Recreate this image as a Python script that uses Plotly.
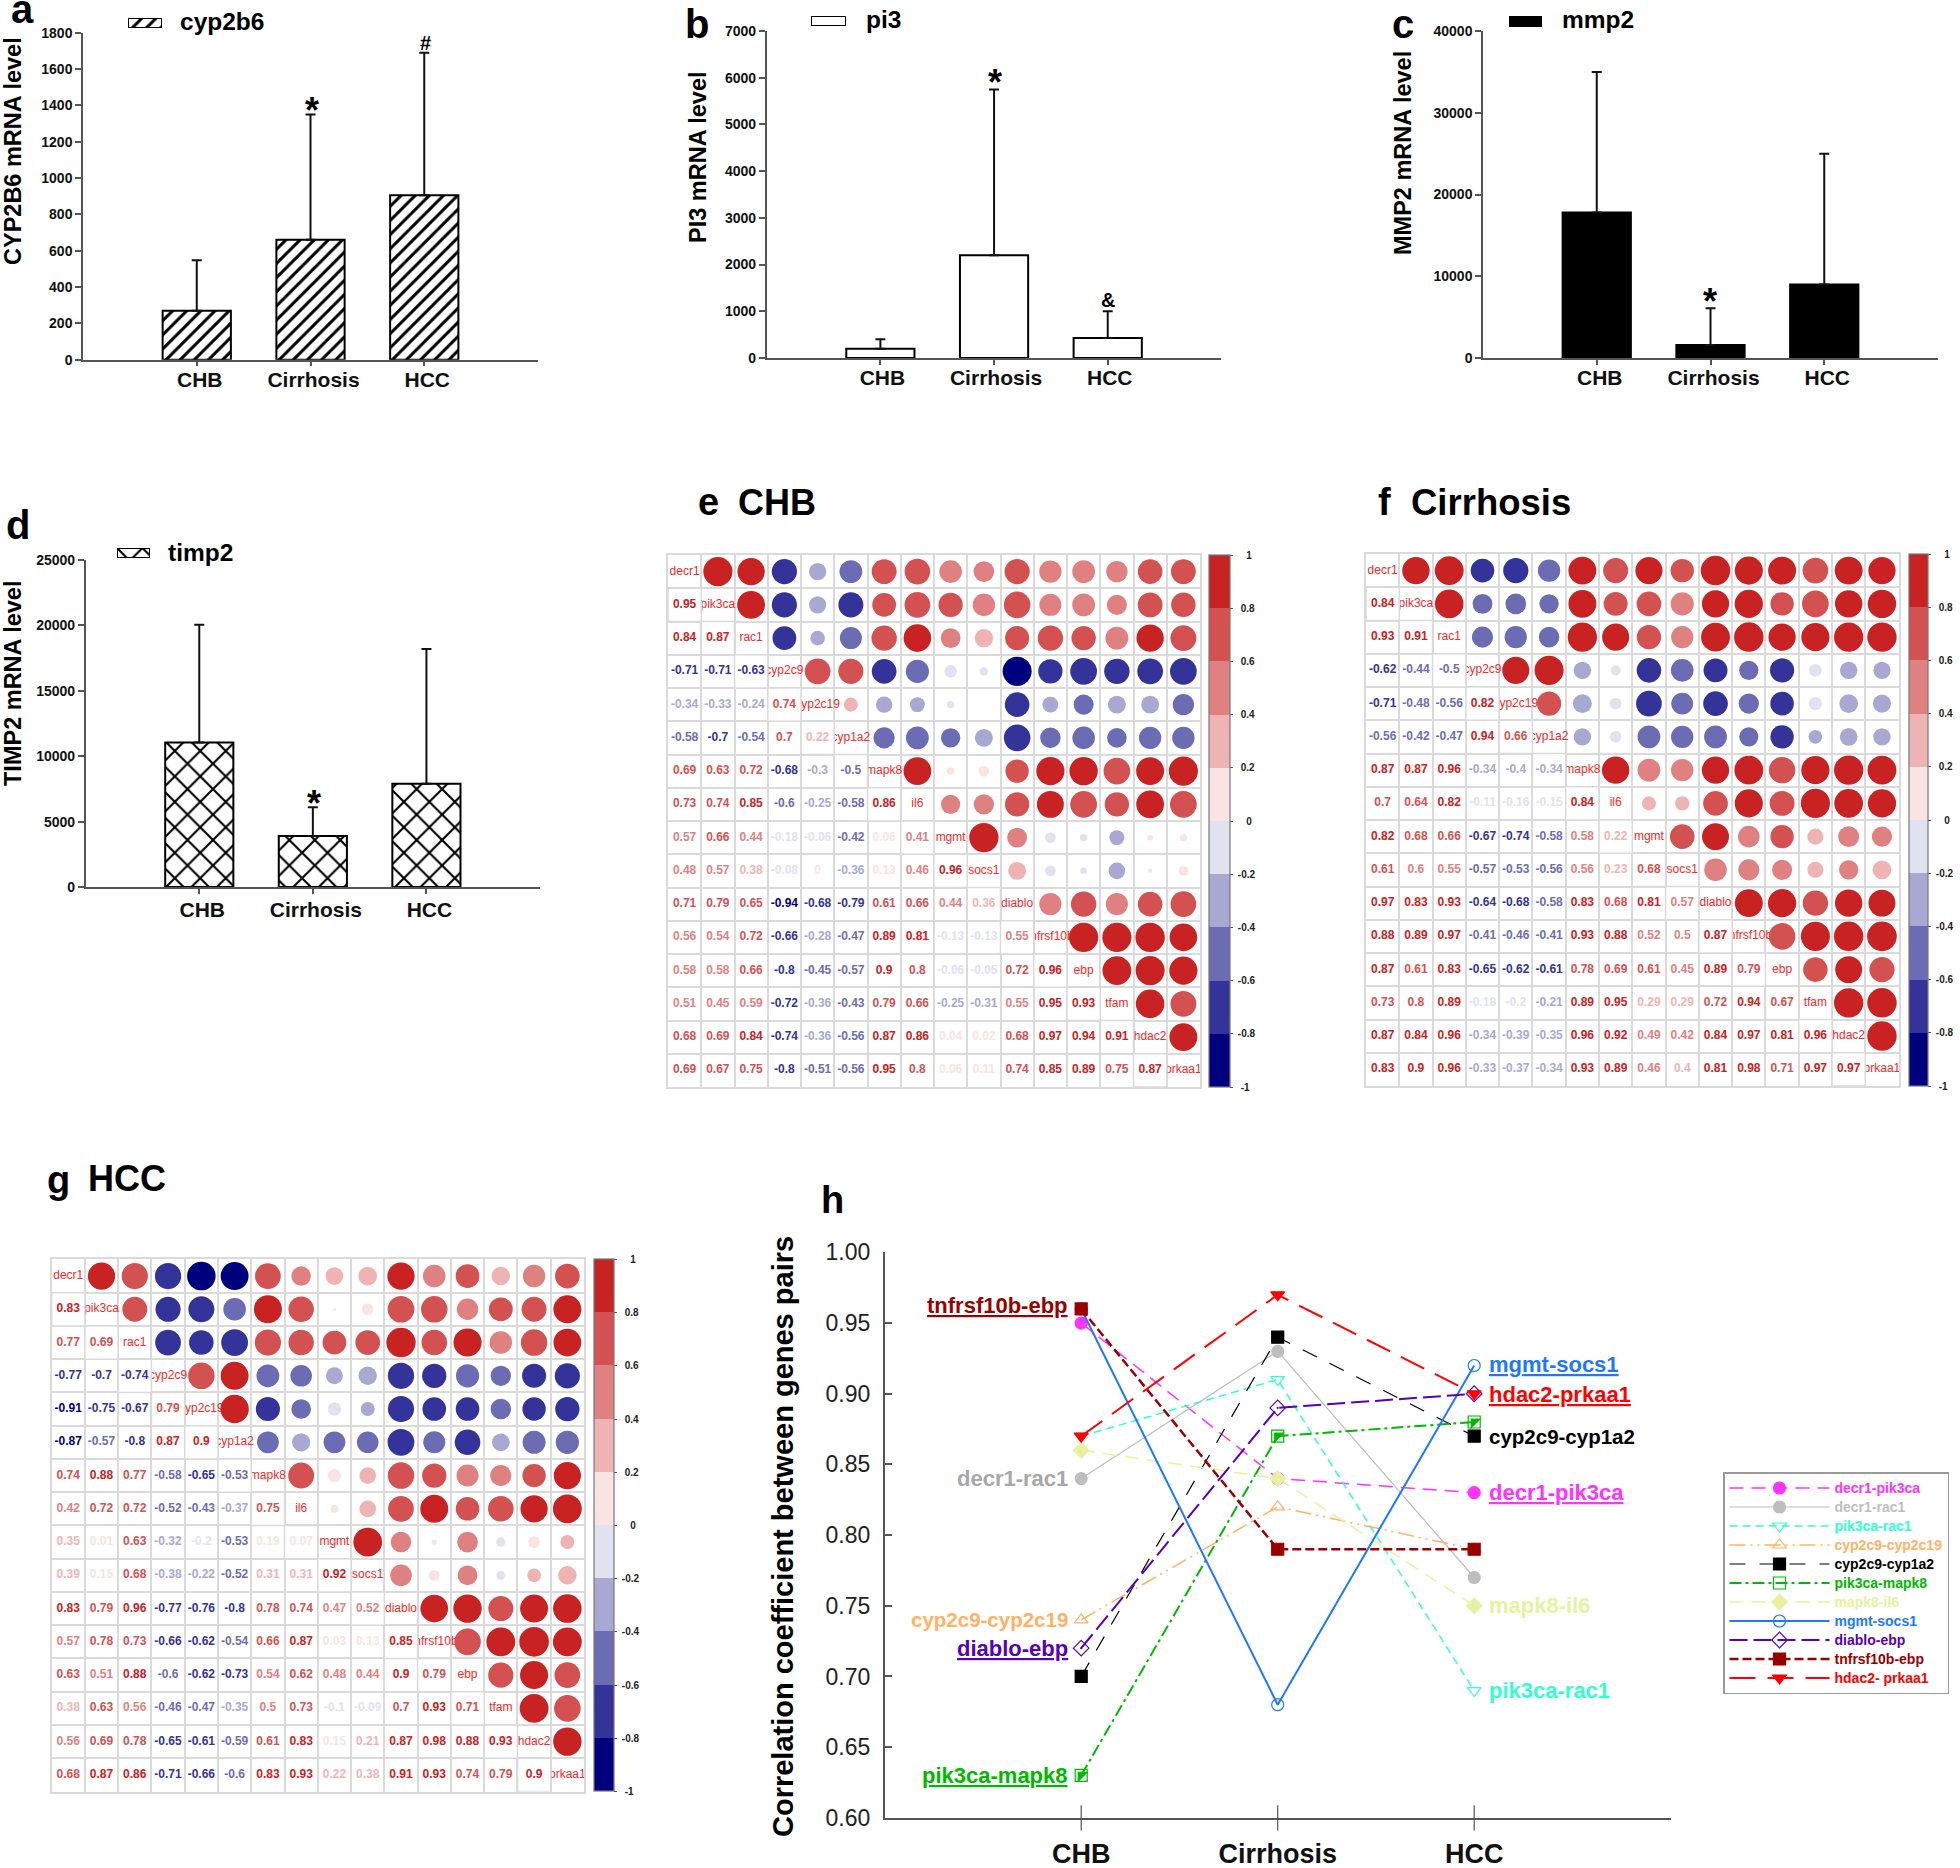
import math
import plotly.graph_objects as go

W, H = 1960, 1868
FONT = "Liberation Sans"

groups = ["CHB", "Cirrhosis", "HCC"]

# Panels a-d: bar means and top of the error bars
cyp2b6_mean = [270, 660, 905]
cyp2b6_top = [548, 1350, 1690]
pi3_mean = [200, 2200, 430]
pi3_top = [400, 5750, 1000]
mmp2_mean = [17800, 1600, 9000]
mmp2_top = [35000, 6100, 25000]
timp2_mean = [11050, 3900, 7900]
timp2_top = [20050, 6100, 18200]

genes = ["decr1", "pik3ca", "rac1", "cyp2c9", "cyp2c19", "cyp1a2", "mapk8", "il6",
         "mgmt", "socs1", "diablo", "tnfrsf10b", "ebp", "tfam", "hdac2", "prkaa1"]

chb_corr = [
    [.95],
    [.84, .87],
    [-.71, -.71, -.63],
    [-.34, -.33, -.24, .74],
    [-.58, -.7, -.54, .7, .22],
    [.69, .63, .72, -.68, -.3, -.5],
    [.73, .74, .85, -.6, -.25, -.58, .86],
    [.57, .66, .44, -.18, -.06, -.42, .06, .41],
    [.48, .57, .38, -.08, 0, -.36, .13, .46, .96],
    [.71, .79, .65, -.94, -.68, -.79, .61, .66, .44, .36],
    [.56, .54, .72, -.66, -.28, -.47, .89, .81, -.13, -.13, .55],
    [.58, .58, .66, -.8, -.45, -.57, .9, .8, -.06, -.05, .72, .96],
    [.51, .45, .59, -.72, -.36, -.43, .79, .66, -.25, -.31, .55, .95, .93],
    [.68, .69, .84, -.74, -.36, -.56, .87, .86, .04, .02, .68, .97, .94, .91],
    [.69, .67, .75, -.8, -.51, -.56, .95, .8, .06, .11, .74, .85, .89, .75, .87],
]
cirrhosis_corr = [
    [.84],
    [.93, .91],
    [-.62, -.44, -.5],
    [-.71, -.48, -.56, .82],
    [-.56, -.42, -.47, .94, .66],
    [.87, .87, .96, -.34, -.4, -.34],
    [.7, .64, .82, -.11, -.16, -.15, .84],
    [.82, .68, .66, -.67, -.74, -.58, .58, .22],
    [.61, .6, .55, -.57, -.53, -.56, .56, .23, .68],
    [.97, .83, .93, -.64, -.68, -.58, .83, .68, .81, .57],
    [.88, .89, .97, -.41, -.46, -.41, .93, .88, .52, .5, .87],
    [.87, .61, .83, -.65, -.62, -.61, .78, .69, .61, .45, .89, .79],
    [.73, .8, .89, -.18, -.2, -.21, .89, .95, .29, .29, .72, .94, .67],
    [.87, .84, .96, -.34, -.39, -.35, .96, .92, .49, .42, .84, .97, .81, .96],
    [.83, .9, .96, -.33, -.37, -.34, .93, .89, .46, .4, .81, .98, .71, .97, .97],
]
hcc_corr = [
    [.83],
    [.77, .69],
    [-.77, -.7, -.74],
    [-.91, -.75, -.67, .79],
    [-.87, -.57, -.8, .87, .9],
    [.74, .88, .77, -.58, -.65, -.53],
    [.42, .72, .72, -.52, -.43, -.37, .75],
    [.35, .01, .63, -.32, -.2, -.53, .19, .07],
    [.39, .15, .68, -.38, -.22, -.52, .31, .31, .92],
    [.83, .79, .96, -.77, -.76, -.8, .78, .74, .47, .52],
    [.57, .78, .73, -.66, -.62, -.54, .66, .87, .03, .13, .85],
    [.63, .51, .88, -.6, -.62, -.73, .54, .62, .48, .44, .9, .79],
    [.38, .63, .56, -.46, -.47, -.35, .5, .73, -.1, -.09, .7, .93, .71],
    [.56, .69, .78, -.65, -.61, -.59, .61, .83, .15, .21, .87, .98, .88, .93],
    [.68, .87, .86, -.71, -.66, -.6, .83, .93, .22, .38, .91, .93, .74, .79, .9],
]
bin_colors = ["#00007F", "#33339A", "#6C6CB5", "#A8A8D3", "#E1E1F0",
              "#F9E3E3", "#EEB4B4", "#E08181", "#D35151", "#C82222"]
cbar_ticks = [-1, -0.8, -0.6, -0.4, -0.2, 0, 0.2, 0.4, 0.6, 0.8, 1]

# Panel h
pair_names = ["decr1-pik3ca", "decr1-rac1", "pik3ca-rac1", "cyp2c9-cyp2c19", "cyp2c9-cyp1a2",
              "pik3ca-mapk8", "mapk8-il6", "mgmt-socs1", "diablo-ebp", "tnfrsf10b-ebp", "hdac2- prkaa1"]
pair_values = [[.95, .84, .83], [.84, .93, .77], [.87, .91, .69], [.74, .82, .79], [.70, .94, .87],
               [.63, .87, .88], [.86, .84, .75], [.96, .68, .92], [.72, .89, .90], [.96, .79, .79], [.87, .97, .90]]
pair_colors = ["#FF33FF", "#BEBEBE", "#33FFCC", "#FFB266", "#000000", "#00B800", "#E6F2A0",
               "#1E78FF", "#5500BB", "#990000", "#FF0000"]
pair_symbols = ["circle", "circle", "triangle-down-open", "triangle-up-open", "square", "square-open",
                "diamond", "circle-open", "diamond-open-dot", "square", "triangle-down"]
pair_dashes = ["14px,8px", "solid", "8px,5px", "16px,5px,2px,5px,2px,5px", "16px,14px", "12px,4px,3px,4px",
               "14px,8px", "solid", "18px,6px", "9px,4px", "26px,12px"]
pair_widths = [1.5, 1.2, 1.5, 1.5, 1.2, 2, 1.5, 2, 2, 2.5, 2]


def fx(x):
    return x / W


def fy(y):
    return 1 - y / H


fig = go.Figure()
layout = {}
annotations = []
axis_n = [0]


def new_axes(left, right, top, bottom, xcfg, ycfg):
    axis_n[0] += 1
    n = axis_n[0]
    sx = "" if n == 1 else str(n)
    xcfg = dict(xcfg, domain=[fx(left), fx(right)], anchor="y" + sx, automargin=False)
    ycfg = dict(ycfg, domain=[fy(bottom), fy(top)], anchor="x" + sx, automargin=False)
    layout["xaxis" + sx] = xcfg
    layout["yaxis" + sx] = ycfg
    return "x" + sx, "y" + sx


def note(x, y, text, size, color="#000000", bold=True, angle=0, anchor="center"):
    annotations.append(dict(
        x=fx(x), y=fy(y), xref="paper", yref="paper", text=text, showarrow=False,
        xanchor=anchor, yanchor="middle", textangle=angle,
        font=dict(family=FONT, size=size, color=color, weight=700 if bold else 400),
    ))


AX = "#555555"


def bar_panel(mean, top, ymax, dtick, box, marker_extra, swatch, legend_text, ytitle, shift, standoff):
    left, right, t, b = box
    xa, ya = new_axes(
        left, right, t, b,
        dict(type="category", categoryorder="array", categoryarray=groups, range=[-1, 3], showgrid=False,
             zeroline=False, showline=True,
             linecolor=AX, linewidth=1.5, ticks="outside", ticklen=5, tickcolor=AX, tickwidth=1.5,
             ticklabelshift=shift, ticklabelstandoff=standoff,
             tickfont=dict(family=FONT, size=21, color="#111", weight=700)),
        dict(range=[0, ymax], dtick=dtick, showgrid=False, zeroline=False, showline=True, linecolor=AX, linewidth=1.5,
             ticks="outside", ticklen=6, tickcolor=AX, tickwidth=1.5, tickformat="d",
             tickfont=dict(family=FONT, size=14, color="#111", weight=700)),
    )
    fig.add_trace(go.Bar(
        x=groups, y=mean, width=0.6, xaxis=xa, yaxis=ya, showlegend=False, name=legend_text,
        marker=dict(line=dict(color="#000", width=2), **marker_extra),
        error_y=dict(type="data", symmetric=False, array=[a - c for a, c in zip(top, mean)],
                     arrayminus=[0, 0, 0], color="#111", thickness=2, width=5),
    ))
    # legend swatch
    sl, sr, st, sb = swatch
    xs, ys = new_axes(sl, sr, st, sb,
                      dict(range=[-0.5, 0.5], visible=False),
                      dict(range=[0, 1], visible=False))
    fig.add_trace(go.Bar(x=[0], y=[1], width=1, xaxis=xs, yaxis=ys, showlegend=False, name=legend_text,
                         marker=dict(line=dict(color="#000", width=2), **marker_extra)))
    note(ytitle[0], ytitle[1], ytitle[2], 23.5, angle=-90)


bar_panel(cyp2b6_mean, cyp2b6_top, 1800, 200, (83, 538, 32.7, 359.7),
          dict(color="#fff", pattern=dict(shape="/", fgcolor="#000", bgcolor="#fff", size=10, solidity=0.3)),
          (128, 162, 18, 28), "cyp2b6", (13, 151, "CYP2B6 mRNA level"), 3, -5)
bar_panel(pi3_mean, pi3_top, 7000, 1000, (766.7, 1221.4, 31, 358),
          dict(color="#fff"), (811, 846, 16, 26), "pi3", (698, 157, "PI3 mRNA level"), 2, -5)
bar_panel(mmp2_mean, mmp2_top, 40000, 10000, (1483, 1938, 31, 358),
          dict(color="#000"), (1509, 1542, 16, 27), "mmp2", (1403, 153, "MMP2 mRNA level"), 3, -5)
bar_panel(timp2_mean, timp2_top, 25000, 5000, (85.7, 540, 560, 887),
          dict(color="#fff", pattern=dict(shape="x", fgcolor="#000", bgcolor="#fff", size=18, solidity=0.22)),
          (117, 150, 548, 558), "timp2", (13, 684, "TIMP2 mRNA level"), 3, -2)

note(222, 22, "cyp2b6", 24.5)
note(883, 20, "pi3", 24.5)
note(1598, 20, "mmp2", 24.5)
note(200, 552, "timp2", 24.5)

note(312, 110, "*", 36)
note(425, 43, "#", 20)
note(995, 82, "*", 36)
note(1107.5, 300, "&", 20)
note(1710, 301, "*", 36)
note(314, 803, "*", 36)

note(22, 9, "a", 40)
note(697, 24, "b", 40)
note(1403, 24, "c", 40)
note(18, 525, "d", 40)


def bin_index(v):
    k = max(math.ceil(abs(v) * 5 - 1e-9) - 1, 0)
    return 5 + k if v >= 0 else 4 - k


def corr_panel(rows, box, cbar_left, cbar_right):
    left, right, t, b = box
    cell_w = (right - left) / 16
    xa, ya = new_axes(
        left, right, t, b,
        dict(range=[-0.5, 15.5], tick0=-0.5, dtick=1, showticklabels=False, ticks="", showgrid=True,
             gridcolor="#DADADA", gridwidth=1.5, zeroline=False, showline=True, linecolor="#DADADA",
             linewidth=1.5, mirror=True),
        dict(range=[15.5, -0.5], tick0=-0.5, dtick=1, showticklabels=False, ticks="", showgrid=True,
             gridcolor="#DADADA", gridwidth=1.5, zeroline=False, showline=True, linecolor="#DADADA",
             linewidth=1.5, mirror=True),
    )
    # gene names on the diagonal
    fig.add_trace(go.Scatter(
        x=list(range(16)), y=list(range(16)), mode="text", text=genes, showlegend=False, xaxis=xa, yaxis=ya,
        textfont=dict(family=FONT, size=12, color="#EE2A2A"), cliponaxis=False,
    ))
    # the cell left of each name hides what overflows
    fig.add_trace(go.Scatter(
        x=list(range(15)), y=list(range(1, 16)), mode="markers", showlegend=False, xaxis=xa, yaxis=ya,
        marker=dict(symbol="square", size=cell_w, color="#fff", line=dict(color="#DADADA", width=1.5), opacity=1),
        hoverinfo="skip",
    ))
    cx, cy, cz, cs = [], [], [], []
    tx, ty, tt, tc = [], [], [], []
    for i, row in enumerate(rows, start=1):
        for j, v in enumerate(row):
            idx = bin_index(v)
            cx.append(i)
            cy.append(j)
            cz.append(-0.9 + idx * 0.2)
            cs.append(max(0.9 * math.sqrt(abs(v)) * cell_w, 1))
            tx.append(j)
            ty.append(i)
            tt.append(f"{v:.2f}".rstrip("0").rstrip(".") if v != 0 else "0")
            tc.append(bin_colors[idx])
    scale = []
    for i, c in enumerate(bin_colors):
        scale += [[i / 10, c], [(i + 1) / 10, c]]
    labels = []
    for tv in cbar_ticks:
        s = f"{tv:g}"
        labels.append("\u00a0" * (6 - len(s) * 2 if len(s) < 3 else (2 if len(s) == 3 else 1)) + s)
    fig.add_trace(go.Scatter(
        x=cx, y=cy, mode="markers", showlegend=False, xaxis=xa, yaxis=ya,
        marker=dict(size=cs, sizemode="diameter", color=cz, cmin=-1, cmax=1, colorscale=scale, line=dict(width=0),
                    opacity=1,
                    colorbar=dict(
                        x=fx(cbar_left), xanchor="left", y=fy(t), yanchor="top", len=b - t, lenmode="pixels",
                        thickness=cbar_right - cbar_left, thicknessmode="pixels", xpad=0, ypad=0,
                        outlinecolor="#777", outlinewidth=1.2, tickmode="array", tickvals=cbar_ticks,
                        ticktext=labels, ticks="outside", ticklen=3, tickcolor="#555",
                        tickfont=dict(family=FONT, size=10, color="#222", weight=700),
                    )),
    ))
    fig.add_trace(go.Scatter(
        x=tx, y=ty, mode="text", text=tt, showlegend=False, xaxis=xa, yaxis=ya,
        textfont=dict(family=FONT, size=12, color=tc, weight=700),
    ))


corr_panel(chb_corr, (668, 1200, 555, 1087), 1209, 1230)
corr_panel(cirrhosis_corr, (1366, 1898.6, 554, 1086), 1909, 1928)
corr_panel(hcc_corr, (51.6, 584, 1259.4, 1791.5), 593.7, 613.7)

note(708, 502, "e", 38)
note(777, 502, "CHB", 36)
note(1384, 502, "f", 38)
note(1491, 502, "Cirrhosis", 36.5)
note(58, 1180, "g", 38)
note(127, 1178, "HCC", 36)
note(832, 1200, "h", 38)

# Panel h
xa, ya = new_axes(
    884.7, 1670.7, 1252.4, 1817.8,
    dict(type="category", categoryorder="array", categoryarray=groups, range=[-1, 3], showgrid=False,
         zeroline=False, showline=True,
         linecolor="#555", linewidth=1.5, ticks="", ticklabelstandoff=11,
         tickfont=dict(family=FONT, size=27, color="#111", weight=700)),
    dict(range=[0.6, 1.0], dtick=0.05, tickformat=".2f", showgrid=False, zeroline=False, showline=True,
         linecolor="#555", linewidth=1.5, ticks="inside", ticklen=8, tickcolor="#555", tickwidth=1.5,
         ticklabelstandoff=8, tickfont=dict(family=FONT, size=23, color="#222")),
)
fig.add_trace(go.Scatter(
    x=groups, y=[0.6, 0.6, 0.6], mode="markers", xaxis=xa, yaxis=ya, showlegend=False, cliponaxis=False,
    marker=dict(symbol="line-ns", size=18, line=dict(color="#555", width=1.2)), hoverinfo="skip",
))
for name, vals, col, sym, dash, lw in zip(pair_names, pair_values, pair_colors, pair_symbols, pair_dashes, pair_widths):
    fig.add_trace(go.Scatter(
        x=groups, y=vals, mode="lines+markers", xaxis=xa, yaxis=ya, cliponaxis=False,
        name=f'<span style="color:{col};font-size:14px">{name}</span>',
        line=dict(color=col, width=lw, dash=dash),
        marker=dict(symbol=sym, size=12, color=col, line=dict(color=col, width=1.2)),
    ))
    if name == "pik3ca-mapk8":
        # the half-filled square of this series
        fig.add_trace(go.Scatter(
            x=groups, y=vals, mode="markers", xaxis=xa, yaxis=ya, cliponaxis=False, showlegend=False,
            marker=dict(symbol="triangle-nw", size=12, color=col, line=dict(width=0)), hoverinfo="skip",
        ))

note(783, 1537, "Correlation coefficient between genes pairs", 29, angle=-90)
note(1070, 1305, "<u>tnfrsf10b-ebp</u>", 22, "#990000", anchor="right")
note(1070, 1478.5, "decr1-rac1", 22, "#A8A8A8", anchor="right")
note(1070, 1619.7, "cyp2c9-cyp2c19", 20.5, "#FFB266", anchor="right")
note(1070, 1648.6, "<u>diablo-ebp</u>", 22, "#5500BB", anchor="right")
note(1070, 1775.5, "<u>pik3ca-mapk8</u>", 22, "#00B800", anchor="right")
note(1487, 1364.6, "<u>mgmt-socs1</u>", 22, "#1E78FF", anchor="left")
note(1487, 1394.8, "<u>hdac2-prkaa1</u>", 22, "#FF0000", anchor="left")
note(1487, 1436, "cyp2c9-cyp1a2", 20.5, "#000000", anchor="left")
note(1487, 1492.8, "<u>decr1-pik3ca</u>", 22, "#FF33FF", anchor="left")
note(1487, 1605, "mapk8-il6", 22, "#E6F2A0", anchor="left")
note(1487, 1690, "pik3ca-rac1", 22, "#33FFCC", anchor="left")

fig.update_layout(
    template="none",
    width=W, height=H, margin=dict(l=0, r=0, t=0, b=0, autoexpand=False), autosize=False,
    paper_bgcolor="#fff", plot_bgcolor="rgba(0,0,0,0)", barmode="overlay", annotations=annotations,
    font=dict(family=FONT),
    legend=dict(x=fx(1723), y=fy(1472), xanchor="left", yanchor="top", bgcolor="#fff", bordercolor="#999",
                borderwidth=1.5, itemwidth=100, font=dict(family=FONT, size=12, weight=700)),
    **layout,
)
fig.write_html("out.html", post_script="document.body.style.margin='0';", config={"displayModeBar": False})
